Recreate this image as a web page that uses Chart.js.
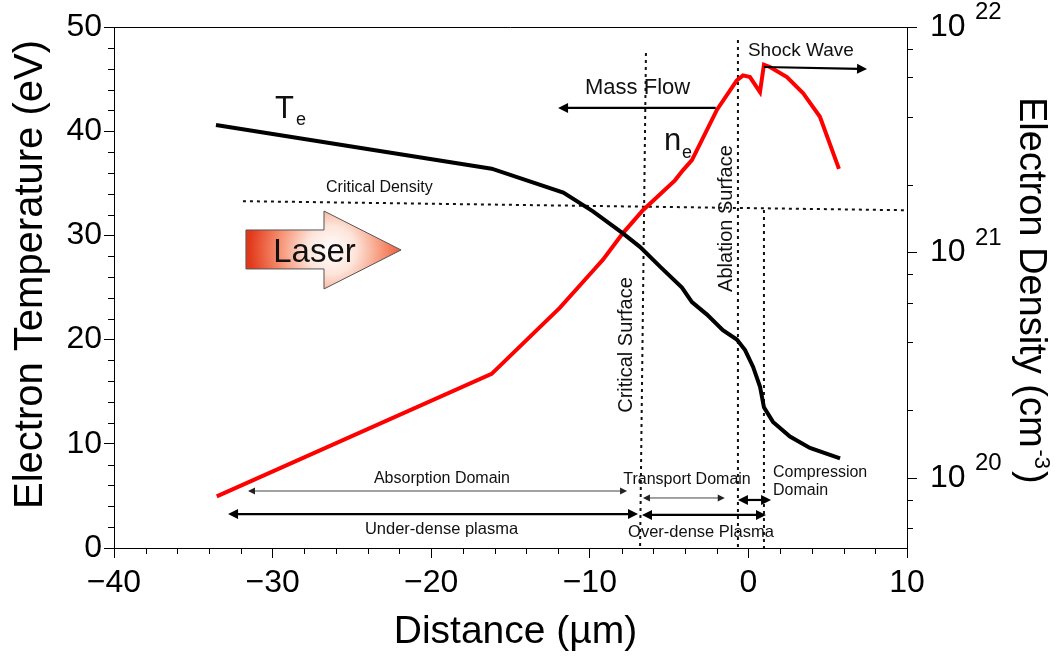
<!DOCTYPE html>
<html><head><meta charset="utf-8">
<script src="https://cdn.jsdelivr.net/npm/chart.js@4.4.1/dist/chart.umd.min.js"></script>
<style>html,body{margin:0;padding:0;background:#fff;}#wrap{width:1060px;height:658px;}</style>
</head><body><div id="wrap"><canvas id="c" width="1060" height="658"></canvas></div>
<script>
// ---- axis definitions ----
const distanceRange = [-40, 10];
const temperatureRange = [0, 50];
const densityRange = [4.9e19, 1e22];
const distanceTicks = [-40, -30, -20, -10, 0, 10];
const distanceMinorTicks = [-38,-36,-34,-32,-28,-26,-24,-22,-18,-16,-14,-12,-8,-6,-4,-2,2,4,6,8];
const temperatureTicks = [0, 10, 20, 30, 40, 50];
const temperatureMinorTicks = [2,4,6,8,12,14,16,18,22,24,26,28,32,34,36,38,42,44,46,48];
const densityTicks = [1e20, 1e21, 1e22];
const densityTickExponents = ['20', '21', '22'];
const densityMinorTicks = [6e19, 8e19, 2e20, 4e20, 6e20, 8e20, 2e21, 4e21, 6e21, 8e21];
const xTitle = 'Distance (µm)';
const yLeftTitle = 'Electron Temperature (eV)';
const yRightTitle = 'Electron Density (cm';
const yRightTitleSup = '-3';

// ---- series ----
const teDistance = [-33.57,-16.19,-11.67,-9.80,-7.91,-6.84,-5.57,-4.19,-3.56,-2.61,-1.61,-0.73,-0.21,0.29,0.73,0.98,1.55,2.62,3.88,5.78];
const teValues   = [40.6,36.4,34.1,32.3,30.2,28.9,27.0,25.0,23.6,22.4,20.9,20.0,19.0,17.4,15.5,13.5,12.1,10.7,9.6,8.6];
const neDistance = [-33.52,-16.19,-11.88,-9.67,-9.17,-7.91,-6.65,-4.63,-4.12,-3.56,-1.98,-0.73,-0.34,0.10,0.73,0.98,1.36,2.43,3.44,4.51,5.71];
const neValues   = [8.3e19,2.9e20,5.7e20,8.5e20,9.3e20,1.22e21,1.54e21,2.09e21,2.32e21,2.57e21,4.3e21,5.8e21,6.1e21,6.0e21,5.15e21,6.8e21,6.65e21,6.0e21,5.1e21,4.0e21,2.35e21];

// ---- annotation content (positions in data units: distance µm, temperature eV) ----
const criticalDensityLine = {x: [-31.87, 10], n: [1.69e21, 1.54e21]};
const verticalLines = [
  {x: [-6.46, -6.83], t: [47.5, 0]},
  {x: [-0.66, -0.66], t: [48.75, 0]},
  {x: [0.98, 0.98], t: [32.44, 0]}
];
const FONT = 'Liberation Sans, Arial, sans-serif';
const labels = [
  {text:'T', x:-29.85, t:41.27, size:31, align:'left'},
  {text:'e', x:-28.52, t:40.59, size:18, align:'left'},
  {text:'n', x:-5.32, t:38.20, size:31, align:'left'},
  {text:'e', x:-4.19, t:37.43, size:18, align:'left'},
  {text:'Critical Density', x:-26.63, t:34.17, size:16, align:'left'},
  {text:'Mass Flow', x:-10.30, t:43.57, size:22, align:'left'},
  {text:'Shock Wave', x:-0.03, t:47.22, size:19, align:'left'},
  {text:'Absorption Domain', x:-19.32, t:6.24, size:16, align:'center'},
  {text:'Under-dense plasma', x:-19.35, t:1.34, size:16.5, align:'center'},
  {text:'Transport Domain', x:-3.87, t:6.19, size:16, align:'center'},
  {text:'Over-dense Plasma', x:-2.99, t:1.01, size:16.5, align:'center'},
  {text:'Compression', x:1.55, t:6.86, size:16, align:'left'},
  {text:'Domain', x:1.55, t:5.09, size:16, align:'left'}
];
const rotatedLabels = [
  {text:'Critical Surface', x:-7.34, t:19.48, size:20},
  {text:'Ablation Surface', x:-1.03, t:31.62, size:20}
];
const arrows = [
  {x:[-31.55,-7.65], t:[5.47,5.47], heads:'both', thin:true},
  {x:[-32.81,-6.96], t:[3.26,3.26], heads:'both', thin:false},
  {x:[-6.65,-1.49], t:[4.80,4.80], heads:'both', thin:true},
  {x:[-6.71,1.11], t:[3.17,3.17], heads:'both', thin:false},
  {x:[-0.66,1.43], t:[4.61,4.61], heads:'both', thin:false},
  {x:[-2.06,-12.0], t:[42.23,42.23], heads:'end', thin:false},
  {x:[0.98,7.48], t:[46.16,45.97], heads:'end', thin:false}
];
const laserShape = {x:[-31.68,-26.76,-26.76,-21.90,-26.76,-26.76,-31.68], t:[30.52,30.52,32.34,28.6,24.86,26.78,26.78]};
const laserLabel = {text:'Laser', x:-27.36, t:27.45, size:33};

function drawArrow(ctx, x1, y1, x2, y2, heads, thin) {
  const hl = thin ? 7 : 10, hw = thin ? 3.5 : 5;
  const ang = Math.atan2(y2 - y1, x2 - x1);
  const cx = Math.cos(ang), cy = Math.sin(ang);
  let sx = x1, sy = y1, ex = x2, ey = y2;
  if (heads === 'both') { sx += cx * hl * 0.8; sy += cy * hl * 0.8; }
  ex -= cx * hl * 0.8; ey -= cy * hl * 0.8;
  ctx.save();
  ctx.strokeStyle = thin ? '#444' : '#000';
  ctx.fillStyle = thin ? '#222' : '#000';
  ctx.lineWidth = thin ? 1 : 2.2;
  ctx.beginPath(); ctx.moveTo(sx, sy); ctx.lineTo(ex, ey); ctx.stroke();
  const head = (tx, ty, dx, dy) => {
    ctx.beginPath();
    ctx.moveTo(tx, ty);
    ctx.lineTo(tx - dx * hl - dy * hw, ty - dy * hl + dx * hw);
    ctx.lineTo(tx - dx * hl + dy * hw, ty - dy * hl - dx * hw);
    ctx.closePath(); ctx.fill();
  };
  head(x2, y2, cx, cy);
  if (heads === 'both') head(x1, y1, -cx, -cy);
  ctx.restore();
}

const annot = {
  id: 'annot',
  beforeDatasetsDraw(chart) {
    const ctx = chart.ctx, X = chart.scales.x, T = chart.scales.yT, N = chart.scales.yN;
    ctx.save();
    ctx.strokeStyle = '#111'; ctx.lineWidth = 2; ctx.setLineDash([3, 4]);
    ctx.beginPath();
    ctx.moveTo(X.getPixelForValue(criticalDensityLine.x[0]), N.getPixelForValue(criticalDensityLine.n[0]));
    ctx.lineTo(X.getPixelForValue(criticalDensityLine.x[1]), N.getPixelForValue(criticalDensityLine.n[1]));
    ctx.stroke();
    verticalLines.forEach(l => {
      ctx.beginPath();
      ctx.moveTo(X.getPixelForValue(l.x[0]), T.getPixelForValue(l.t[0]));
      ctx.lineTo(X.getPixelForValue(l.x[1]), T.getPixelForValue(l.t[1]));
      ctx.stroke();
    });
    ctx.restore();
  },
  afterDatasetsDraw(chart) {
    const ctx = chart.ctx, X = chart.scales.x, T = chart.scales.yT;
    // laser arrow
    ctx.save();
    ctx.beginPath();
    laserShape.x.forEach((x, i) => {
      const px = X.getPixelForValue(x), py = T.getPixelForValue(laserShape.t[i]);
      if (i === 0) ctx.moveTo(px, py); else ctx.lineTo(px, py);
    });
    ctx.closePath();
    const gx = X.getPixelForValue(-26.3), gy = T.getPixelForValue(28.6);
    const g = ctx.createRadialGradient(gx, gy, 0, gx, gy, 82);
    g.addColorStop(0, '#ffffff');
    g.addColorStop(0.3, '#fde4da');
    g.addColorStop(0.65, '#f68e6e');
    g.addColorStop(1, '#e2391b');
    ctx.fillStyle = g; ctx.fill();
    ctx.strokeStyle = '#555'; ctx.lineWidth = 1; ctx.stroke();
    ctx.fillStyle = '#111';
    ctx.font = laserLabel.size + 'px ' + FONT;
    ctx.textAlign = 'center'; ctx.textBaseline = 'alphabetic';
    ctx.fillText(laserLabel.text, X.getPixelForValue(laserLabel.x), T.getPixelForValue(laserLabel.t));
    ctx.restore();
    // arrows
    arrows.forEach(a => drawArrow(ctx,
      X.getPixelForValue(a.x[0]), T.getPixelForValue(a.t[0]),
      X.getPixelForValue(a.x[1]), T.getPixelForValue(a.t[1]), a.heads, a.thin));
    // labels
    ctx.save();
    ctx.fillStyle = '#111'; ctx.textBaseline = 'alphabetic';
    labels.forEach(l => {
      ctx.font = l.size + 'px ' + FONT; ctx.textAlign = l.align;
      ctx.fillText(l.text, X.getPixelForValue(l.x), T.getPixelForValue(l.t));
    });
    rotatedLabels.forEach(l => {
      ctx.save();
      ctx.translate(X.getPixelForValue(l.x), T.getPixelForValue(l.t));
      ctx.rotate(-Math.PI / 2);
      ctx.font = l.size + 'px ' + FONT; ctx.textAlign = 'center';
      ctx.fillText(l.text, 0, 0);
      ctx.restore();
    });
    ctx.restore();
  },
  afterDraw(chart) {
    const ctx = chart.ctx, a = chart.chartArea, X = chart.scales.x, T = chart.scales.yT, N = chart.scales.yN;
    ctx.save();
    ctx.strokeStyle = '#000'; ctx.lineWidth = 1;
    ctx.beginPath(); ctx.moveTo(a.left, a.top + 0.5); ctx.lineTo(a.right, a.top + 0.5); ctx.stroke();
    ctx.beginPath();
    distanceMinorTicks.forEach(v => { const p = Math.round(X.getPixelForValue(v)) + 0.5; ctx.moveTo(p, a.bottom); ctx.lineTo(p, a.bottom + 6); });
    temperatureMinorTicks.forEach(v => { const p = Math.round(T.getPixelForValue(v)) + 0.5; ctx.moveTo(a.left, p); ctx.lineTo(a.left - 6, p); });
    densityMinorTicks.forEach(v => { const p = Math.round(N.getPixelForValue(v)) + 0.5; ctx.moveTo(a.right, p); ctx.lineTo(a.right + 6, p); });
    ctx.stroke();
    ctx.fillStyle = '#000'; ctx.textBaseline = 'alphabetic';
    // exponents of right tick labels
    ctx.font = '24px ' + FONT; ctx.textAlign = 'left';
    densityTicks.forEach((v, i) => {
      ctx.fillText(densityTickExponents[i], a.right + 68, N.getPixelForValue(v) - 8);
    });
    // left axis title
    ctx.save();
    ctx.translate(42, X.getPixelForValue(-40) ? (a.top + a.bottom) / 2 - 13 : 0);
    ctx.rotate(-Math.PI / 2);
    ctx.font = '40px ' + FONT; ctx.textAlign = 'center';
    ctx.fillText(yLeftTitle, 0, 0);
    ctx.restore();
    // bottom axis title
    ctx.font = '39px ' + FONT; ctx.textAlign = 'center';
    ctx.fillText(xTitle, (a.left + a.right) / 2 + 5, a.bottom + 95);
    // right axis title
    ctx.save();
    ctx.translate(a.right + 113, a.top + 70);
    ctx.rotate(Math.PI / 2);
    ctx.textAlign = 'left';
    ctx.font = '38px ' + FONT;
    ctx.fillText(yRightTitle, 0, 0);
    let w = ctx.measureText(yRightTitle).width;
    ctx.font = '22px ' + FONT;
    ctx.fillText(yRightTitleSup, w + 2, -15);
    w += ctx.measureText(yRightTitleSup).width + 4;
    ctx.font = '38px ' + FONT;
    ctx.fillText(')', w, 0);
    ctx.restore();
    ctx.restore();
  }
};

new Chart(document.getElementById('c'), {
  type: 'line',
  data: {
    datasets: [
      {label: 'Te', data: teDistance.map((x, i) => ({x, y: teValues[i]})), yAxisID: 'yT',
       borderColor: '#000', borderWidth: 4, pointRadius: 0, tension: 0, fill: false},
      {label: 'ne', data: neDistance.map((x, i) => ({x, y: neValues[i]})), yAxisID: 'yN',
       borderColor: '#ff0000', borderWidth: 4, pointRadius: 0, tension: 0, fill: false}
    ]
  },
  options: {
    responsive: false, animation: false, devicePixelRatio: 1,
    layout: {padding: {top: 27, left: 0, right: 0, bottom: 0}},
    plugins: {legend: {display: false}, tooltip: {enabled: false}},
    scales: {
      x: {
        type: 'linear', position: 'bottom', min: distanceRange[0], max: distanceRange[1],
        afterFit(s) { s.height = 110; s.paddingLeft = 0; s.paddingRight = 0; },
        afterBuildTicks(s) { s.ticks = distanceTicks.map(v => ({value: v})); },
        ticks: {callback: v => v < 0 ? '\u2212' + Math.abs(v) : String(v),
                font: {family: FONT, size: 32}, color: '#000', padding: 6, maxRotation: 0, autoSkip: false},
        grid: {drawOnChartArea: false, drawTicks: true, tickLength: 10, color: '#000'},
        border: {display: true, color: '#000', width: 1},
        title: {display: false}
      },
      yT: {
        type: 'linear', position: 'left', min: temperatureRange[0], max: temperatureRange[1],
        afterFit(s) { s.width = 114; s.paddingTop = 0; s.paddingBottom = 0; },
        afterBuildTicks(s) { s.ticks = temperatureTicks.map(v => ({value: v})); },
        ticks: {font: {family: FONT, size: 32}, color: '#000', padding: 2, autoSkip: false},
        grid: {drawOnChartArea: false, drawTicks: true, tickLength: 10, color: '#000'},
        border: {display: true, color: '#000', width: 1},
        title: {display: false}
      },
      yN: {
        type: 'logarithmic', position: 'right', min: densityRange[0], max: densityRange[1],
        afterFit(s) { s.width = 153; s.paddingTop = 0; s.paddingBottom = 0; },
        afterBuildTicks(s) { s.ticks = densityTicks.map(v => ({value: v, major: true})); },
        ticks: {callback: v => densityTicks.includes(v) ? '10' : '', font: {family: FONT, size: 32}, color: '#000', padding: 13, autoSkip: false},
        grid: {drawOnChartArea: false, drawTicks: true, tickLength: 10, color: '#000'},
        border: {display: true, color: '#000', width: 1},
        title: {display: false}
      }
    }
  },
  plugins: [annot]
});
</script>
</body></html>
